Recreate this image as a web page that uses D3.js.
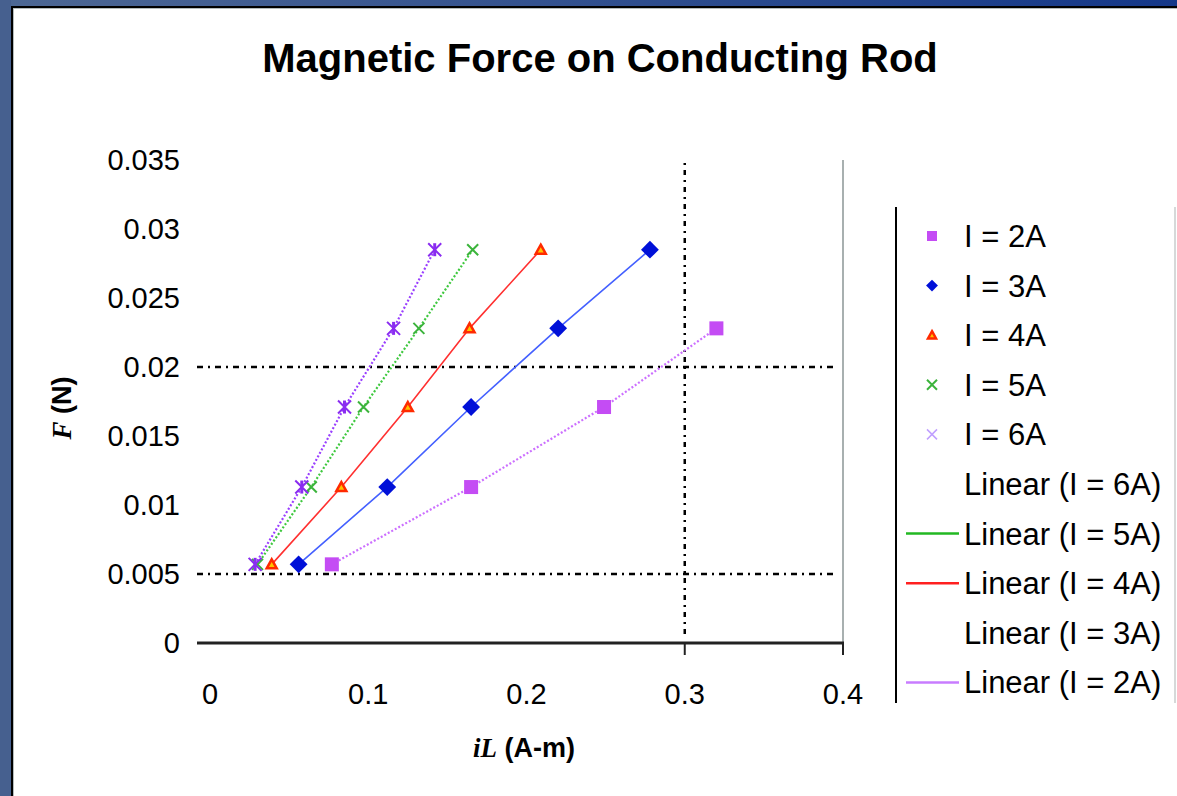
<!DOCTYPE html>
<html lang="en">
<head>
<meta charset="UTF-8">
<title>Magnetic Force on Conducting Rod</title>
<script src="https://d3js.org/d3.v7.min.js"></script>
<style>
    body { margin: 0; background: #fff; }
    svg text { font-family: "Liberation Sans", Arial, sans-serif; fill: #000; }
</style>
</head>
<body>
<svg id="chart" width="1177" height="796"></svg>
<script>
    // values
    const force = [0.0057, 0.0113, 0.0171, 0.0228, 0.0285];
    const iL2A = [0.077, 0.165, 0.249, 0.32];
    const iL3A = [0.056, 0.112, 0.165, 0.220, 0.278];
    const iL4A = [0.039, 0.083, 0.125, 0.164, 0.209];
    const iL5A = [0.030, 0.064, 0.097, 0.132, 0.166];
    const iL6A = [0.0285, 0.058, 0.085, 0.116, 0.142];
    const seriesNames = ["I = 2A", "I = 3A", "I = 4A", "I = 5A", "I = 6A"];
    const trendNames = ["Linear (I = 6A)", "Linear (I = 5A)", "Linear (I = 4A)", "Linear (I = 3A)", "Linear (I = 2A)"];
    const xTicks = [0, 0.1, 0.2, 0.3, 0.4];
    const yTicks = [0, 0.005, 0.01, 0.015, 0.02, 0.025, 0.03, 0.035];
    const refY = [0.005, 0.02];
    const refX = [0.3];

    const svg = d3.select("#chart");
    const W = 1177, H = 796;

    // window frame
    const defs = svg.append("defs");
    const grad = defs.append("linearGradient").attr("id", "topgrad");
    grad.append("stop").attr("offset", "0%").attr("stop-color", "#4d6894");
    grad.append("stop").attr("offset", "100%").attr("stop-color", "#143889");
    svg.append("rect").attr("x", 0).attr("y", 0).attr("width", W).attr("height", 7).attr("fill", "url(#topgrad)");
    svg.append("rect").attr("x", 0).attr("y", 0).attr("width", 11).attr("height", H).attr("fill", "#46608f");
    svg.append("rect").attr("x", 11).attr("y", 6).attr("width", W - 11).attr("height", 2).attr("fill", "#000");
    svg.append("rect").attr("x", 11).attr("y", 6).attr("width", 2).attr("height", H - 6).attr("fill", "#000");
    svg.append("rect").attr("x", 13).attr("y", 8).attr("width", W - 13).attr("height", 1).attr("fill", "#b4bcbc");
    svg.append("rect").attr("x", 13).attr("y", 8).attr("width", 1).attr("height", H - 8).attr("fill", "#b4bcbc");

    const x = d3.scaleLinear().domain([0, 0.4]).range([210, 843]);
    const y = d3.scaleLinear().domain([0, 0.035]).range([643, 160]);

    // title
    svg.append("text").attr("x", 600).attr("y", 72).attr("text-anchor", "middle")
        .style("font-size", "40px").style("font-weight", "bold")
        .text("Magnetic Force on Conducting Rod");

    // right plot edge
    svg.append("line").attr("x1", 843).attr("x2", 843).attr("y1", 160).attr("y2", 655)
        .attr("stroke", "#a8b0b0").attr("stroke-width", 2);

    // dotted reference lines
    svg.selectAll(".refy").data(refY).enter().append("line")
        .attr("x1", 197).attr("x2", 836)
        .attr("y1", d => y(d)).attr("y2", d => y(d))
        .attr("stroke", "#000").attr("stroke-width", 2.5).attr("stroke-dasharray", "6,5,2,5");
    svg.selectAll(".refx").data(refX).enter().append("line")
        .attr("x1", d => x(d)).attr("x2", d => x(d))
        .attr("y1", 163).attr("y2", 636)
        .attr("stroke", "#000").attr("stroke-width", 2.5).attr("stroke-dasharray", "2,5,5,5");

    // x axis
    svg.append("line").attr("x1", 197).attr("x2", 844).attr("y1", y(0)).attr("y2", y(0))
        .attr("stroke", "#222").attr("stroke-width", 3);
    svg.selectAll(".xtick").data(xTicks.filter(d => d >= 0.3)).enter().append("line")
        .attr("x1", d => x(d)).attr("x2", d => x(d))
        .attr("y1", y(0)).attr("y2", y(0) + 12)
        .attr("stroke", "#222").attr("stroke-width", 2);
    svg.selectAll(".xlab").data(xTicks).enter().append("text")
        .attr("x", d => x(d)).attr("y", 704).attr("text-anchor", "middle")
        .style("font-size", "29px")
        .text(d => d3.format("")(d));

    // y labels
    svg.selectAll(".ylab").data(yTicks).enter().append("text")
        .attr("x", 180).attr("y", d => y(d) + 10).attr("text-anchor", "end")
        .style("font-size", "29px")
        .text(d => d3.format("")(d));

    // axis titles
    const yt = svg.append("text").attr("transform", "translate(71,408) rotate(-90)")
        .attr("text-anchor", "middle").style("font-size", "27px").style("font-weight", "bold");
    yt.append("tspan").style("font-style", "italic").style("font-family", "'Liberation Serif', serif").text("F");
    yt.append("tspan").text(" (N)");
    const xt = svg.append("text").attr("x", 524).attr("y", 757)
        .attr("text-anchor", "middle").style("font-size", "27px").style("font-weight", "bold");
    xt.append("tspan").style("font-style", "italic").style("font-family", "'Liberation Serif', serif").text("iL");
    xt.append("tspan").text(" (A-m)");

    // series
    const series = [
        { name: seriesNames[0], xs: iL2A, color: "#c44cf4", line: "#cc70ff", dash: "2,2", marker: "square", size: 14 },
        { name: seriesNames[1], xs: iL3A, color: "#0010d8", line: "#4460ff", dash: null, marker: "diamond", size: 15 },
        { name: seriesNames[2], xs: iL4A, color: "#ff2a00", line: "#ff3030", dash: null, marker: "triangle", size: 10 },
        { name: seriesNames[3], xs: iL5A, color: "#3cb43c", line: "#3ec83e", dash: "2,2", marker: "x", size: 11 },
        { name: seriesNames[4], xs: iL6A, color: "#8a2cf0", line: "#9a40ff", dash: "2,2", marker: "star", size: 13 }
    ];
    series.forEach(s => { s.pts = s.xs.map((v, i) => [v, force[i]]); });

    const line = d3.line().x(d => x(d[0])).y(d => y(d[1]));
    svg.selectAll(".sline").data(series).enter().append("path")
        .attr("d", d => line(d.pts))
        .attr("fill", "none")
        .attr("stroke", d => d.line)
        .attr("stroke-width", d => d.dash ? 2.2 : 1.6)
        .attr("stroke-dasharray", d => d.dash);

    function drawMarker(g, type, color, size, light) {
        const h = size / 2;
        if (type === "square") {
            g.append("rect").attr("x", -h).attr("y", -h).attr("width", size).attr("height", size).attr("fill", color);
        } else if (type === "diamond") {
            g.append("path").attr("d", d3.symbol(d3.symbolDiamond2, size * size * 0.9)()).attr("fill", color);
        } else if (type === "triangle") {
            g.append("path").attr("d", `M0,${-h}L${h},${h * 0.8}L${-h},${h * 0.8}Z`)
                .attr("fill", "#ffc400").attr("stroke", color).attr("stroke-width", 2.5);
        } else if (type === "x" || type === "star") {
            g.append("path").attr("d", `M${-h},${-h}L${h},${h}M${-h},${h}L${h},${-h}`)
                .attr("stroke", light ? "#c0a0ff" : color).attr("stroke-width", light ? 1.5 : 2);
            if (type === "star" && !light) {
                g.append("path").attr("d", `M0,${-h}L0,${h}`).attr("stroke", color).attr("stroke-width", 3);
            }
        }
    }

    series.forEach(s => {
        s.pts.forEach(p => {
            const g = svg.append("g").attr("transform", `translate(${x(p[0])},${y(p[1])})`);
            drawMarker(g, s.marker, s.color, s.size, false);
        });
    });

    // legend
    const lg = svg.append("g");
    lg.append("line").attr("x1", 896).attr("x2", 896).attr("y1", 207).attr("y2", 703)
        .attr("stroke", "#000").attr("stroke-width", 2);
    lg.append("line").attr("x1", 1175).attr("x2", 1175).attr("y1", 207).attr("y2", 703)
        .attr("stroke", "#c8cccc").attr("stroke-width", 1.5);
    const rowY = i => 236 + i * 49.6;
    series.forEach((s, i) => {
        const g = lg.append("g").attr("transform", `translate(932,${rowY(i)})`);
        drawMarker(g, s.marker, s.color, s.marker === "triangle" ? 8 : 10, s.marker === "star");
        lg.append("text").attr("x", 964).attr("y", rowY(i) + 11).style("font-size", "31px").text(s.name);
    });
    const trendColors = [null, "#22b822", "#ff2020", null, "#c87cff"];
    trendNames.forEach((t, j) => {
        const yy = rowY(5 + j);
        if (trendColors[j]) {
            lg.append("line").attr("x1", 906).attr("x2", 959).attr("y1", yy).attr("y2", yy)
                .attr("stroke", trendColors[j]).attr("stroke-width", 2.5);
        }
        lg.append("text").attr("x", 964).attr("y", yy + 11).style("font-size", "31px").text(t);
    });
</script>
</body>
</html>
